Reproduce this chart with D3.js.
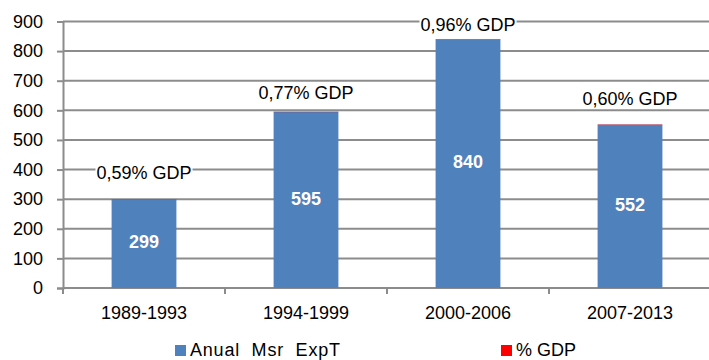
<!DOCTYPE html>
<html>
<head>
<meta charset="utf-8">
<script src="https://cdn.jsdelivr.net/npm/d3@7/dist/d3.min.js"></script>
<style>
  html, body { margin: 0; padding: 0; background: #fff; }
  svg { display: block; font-family: "Liberation Sans", Arial, sans-serif; }
  text { white-space: pre; }
</style>
</head>
<body>
<svg id="chart" width="709" height="360"></svg>
<script>
// Periods and the two stacked series
const periods = ["1989-1993", "1994-1999", "2000-2006", "2007-2013"];
const annualSpend = [299, 595, 840, 552];
const gdpShare = [0.59, 0.77, 0.96, 0.60];
const gdpLabels = ["0,59% GDP", "0,77% GDP", "0,96% GDP", "0,60% GDP"];
const yTicks = [0, 100, 200, 300, 400, 500, 600, 700, 800, 900];
const seriesNames = ["Anual  Msr  ExpT", "% GDP"];

const blue = "#4f81bd", red = "#ff0000", grid = "#8c8c8c";
const svg = d3.select("#chart");

const plotLeft = 63, plotRight = 711, plotTop = 21.5, plotBottom = 288;
const x = d3.scaleBand().domain(periods).range([plotLeft, plotRight]).paddingInner(0.6).paddingOuter(0.3);
const xBand = d3.scaleBand().domain(periods).range([plotLeft, plotRight]);
const y = d3.scaleLinear().domain([0, 900]).range([plotBottom, plotTop]);
// distance of each % GDP label above its bar (px)
const labelLift = [25, 17, 12.5, 24.5];

// horizontal gridlines
svg.append("g").selectAll("line").data(yTicks.filter(d => d > 0)).join("line")
  .attr("x1", plotLeft).attr("x2", 714)
  .attr("y1", d => y(d)).attr("y2", d => y(d))
  .attr("stroke", grid).attr("stroke-width", 2);

// y axis
const yAxis = d3.axisLeft(y).tickValues(yTicks).tickSize(6).tickPadding(14).tickFormat(d3.format("d"));
const gy = svg.append("g").attr("transform", `translate(${plotLeft},0)`).call(yAxis);
gy.select(".domain").attr("stroke", grid).attr("stroke-width", 2);
gy.selectAll(".tick line").attr("stroke", grid).attr("stroke-width", 2);
gy.selectAll(".tick text").attr("font-size", 18).attr("fill", "#000")
  .attr("font-family", "Liberation Sans, Arial, sans-serif");

// x axis with ticks at category boundaries
const gx = svg.append("g").attr("transform", `translate(0,${plotBottom})`);
gx.append("line").attr("x1", plotLeft).attr("x2", 714).attr("stroke", grid).attr("stroke-width", 2);
const bounds = periods.map(p => xBand(p)).concat([xBand(periods[periods.length - 1]) + xBand.bandwidth()]);
gx.selectAll("line.tk").data(bounds).join("line").attr("class", "tk")
  .attr("x1", d => d).attr("x2", d => d).attr("y1", 0).attr("y2", 6)
  .attr("stroke", grid).attr("stroke-width", 2);
gx.selectAll("text").data(periods).join("text")
  .attr("x", d => x(d) + x.bandwidth() / 2).attr("y", 26)
  .attr("text-anchor", "middle").attr("dominant-baseline", "middle")
  .attr("font-size", 18).attr("fill", "#000").text(d => d);

// stacked bars: spending, then % GDP on top
svg.append("g").selectAll("rect").data(periods).join("rect")
  .attr("x", d => x(d)).attr("width", x.bandwidth())
  .attr("y", (d, i) => y(annualSpend[i]))
  .attr("height", (d, i) => y(0) - y(annualSpend[i]))
  .attr("fill", blue);
svg.append("g").selectAll("rect").data(periods).join("rect")
  .attr("x", d => x(d)).attr("width", x.bandwidth())
  .attr("y", (d, i) => y(annualSpend[i] + gdpShare[i]))
  .attr("height", (d, i) => Math.max(0.6, y(annualSpend[i]) - y(annualSpend[i] + gdpShare[i])))
  .attr("fill", red).attr("opacity", 0.55);

// values inside bars
svg.append("g").selectAll("text").data(periods).join("text")
  .attr("x", d => x(d) + x.bandwidth() / 2)
  .attr("y", (d, i) => (y(annualSpend[i]) + y(0)) / 2)
  .attr("text-anchor", "middle").attr("dominant-baseline", "middle")
  .attr("font-size", 18).attr("font-weight", "bold").attr("fill", "#fff")
  .text((d, i) => annualSpend[i]);

// % GDP labels above bars on white boxes
const lab = svg.append("g").selectAll("g").data(periods).join("g");
lab.append("rect").attr("class", "bg").attr("fill", "#fff");
lab.append("text")
  .attr("x", d => x(d) + x.bandwidth() / 2)
  .attr("y", (d, i) => y(annualSpend[i] + gdpShare[i]) - labelLift[i])
  .attr("text-anchor", "middle").attr("dominant-baseline", "middle")
  .attr("font-size", 18).attr("fill", "#000")
  .text((d, i) => gdpLabels[i]);
lab.each(function () {
  const g = d3.select(this);
  const b = g.select("text").node().getBBox();
  g.select("rect.bg").attr("x", b.x - 1).attr("y", b.y + 1).attr("width", b.width + 2).attr("height", b.height - 2);
});

// legend
const legend = svg.append("g");
const legendItems = [
  { name: seriesNames[0], color: blue, x: 175, len: 150 },
  { name: seriesNames[1], color: red, x: 501, len: null }
];
legendItems.forEach(it => {
  legend.append("rect").attr("x", it.x).attr("y", 345).attr("width", 11).attr("height", 11).attr("fill", it.color);
  const t = legend.append("text").attr("x", it.x + 15).attr("y", 351).attr("dominant-baseline", "middle")
    .attr("font-size", 18).attr("fill", "#000").text(it.name);
  if (it.len) t.attr("textLength", it.len).attr("lengthAdjust", "spacing");
});
</script>
</body>
</html>
